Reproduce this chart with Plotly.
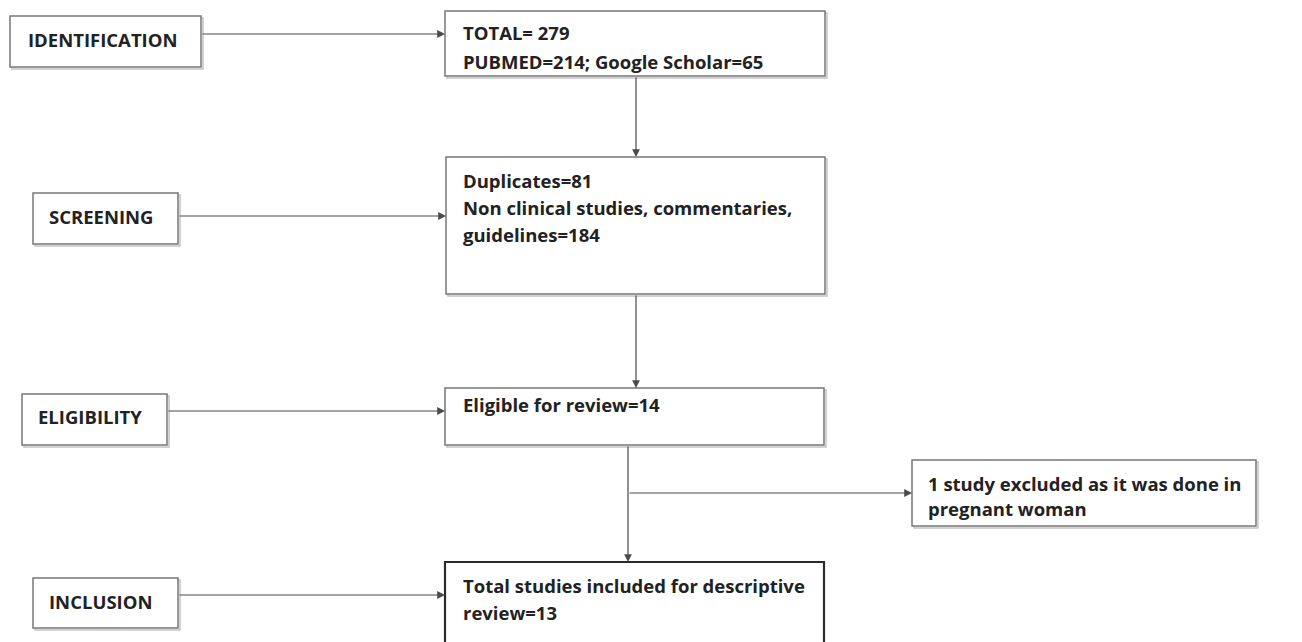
import plotly.graph_objects as go

# ---- content ----
stage_labels = ["IDENTIFICATION", "SCREENING", "ELIGIBILITY", "INCLUSION"]
total_lines = ["TOTAL= 279", "PUBMED=214; Google Scholar=65"]
screening_lines = ["Duplicates=81", "Non clinical studies, commentaries,", "guidelines=184"]
eligible_lines = ["Eligible for review=14"]
included_lines = ["Total studies included for descriptive", "review=13"]
excluded_lines = ["1 study excluded as it was done in", "pregnant woman"]

# ---- geometry (pixels, y downwards) ----
W, H = 1302, 642
stage_boxes = [(10, 16, 201, 67), (33, 193, 178, 244), (22, 394, 167, 445), (33, 578, 178, 628)]
stage_text = [(26, 39), (47, 216), (36, 416), (47, 601)]
stage_arrow_y = [34, 216, 411, 595]

main_boxes = [(445, 11, 825, 76), (446, 157, 825, 294), (445, 388, 824, 445), (445, 562, 824, 660)]
main_text_x = 461
main_text_y = [[32, 61], [180, 207, 234], [404], [585, 612]]
main_lines = [total_lines, screening_lines, eligible_lines, included_lines]

excl_box = (912, 460, 1256, 526)
excl_text = (926, [483, 508])

LINE = "#4a4a4a"
BORDER = "#777777"
SHADOW = "#c4c4c4"
TEXT = "#222222"
FONT = "Open Sans"
FS = 18.5

fig = go.Figure()
shapes = []
annotations = []


def box(x0, y0, x1, y1, color=BORDER, width=1.5, shadow=True):
    if shadow:
        shapes.append(dict(type="rect", x0=x0 + 2, y0=y0 + 2, x1=x1 + 2, y1=y1 + 2,
                           line=dict(color=SHADOW, width=1.5), fillcolor="rgba(0,0,0,0)", layer="below"))
    shapes.append(dict(type="rect", x0=x0, y0=y0, x1=x1, y1=y1,
                       line=dict(color=color, width=width), fillcolor="white"))


def text(x, y, s):
    annotations.append(dict(x=x, y=y, text=s, showarrow=False, xanchor="left", yanchor="middle",
                            font=dict(family=FONT, size=FS, color=TEXT, weight="bold")))


def arrow(x0, y0, x1, y1):
    annotations.append(dict(x=x1, y=y1, ax=x0, ay=y0, xref="x", yref="y", axref="x", ayref="y",
                            text="", showarrow=True, arrowhead=2, arrowsize=1.3, arrowwidth=1.2,
                            arrowcolor=LINE, standoff=0))


# stage boxes + arrows to main boxes
for lbl, b, t, ay, mb in zip(stage_labels, stage_boxes, stage_text, stage_arrow_y, main_boxes):
    box(*b)
    text(t[0], t[1], lbl)
    arrow(b[2], ay, mb[0], ay)

# main boxes
for i, (mb, lines, ys) in enumerate(zip(main_boxes, main_lines, main_text_y)):
    if i == 3:
        box(*mb, color="#2a2a2a", width=2.2, shadow=False)
    else:
        box(*mb)
    for s, y in zip(lines, ys):
        text(main_text_x, y, s)

# vertical connectors
arrow(636, 76, 636, 157)
arrow(636, 294, 636, 388)
arrow(628, 445, 628, 562)

# exclusion branch
box(*excl_box)
for s, y in zip(excluded_lines, excl_text[1]):
    text(excl_text[0], y, s)
arrow(628, 493, 912, 493)

fig.update_layout(
    width=W, height=H, margin=dict(l=0, r=0, t=0, b=0),
    paper_bgcolor="white", plot_bgcolor="white",
    xaxis=dict(range=[0, W], visible=False, fixedrange=True),
    yaxis=dict(range=[H, 0], visible=False, fixedrange=True),
    shapes=shapes, annotations=annotations, showlegend=False,
)
fig.write_html("out.html", config={"displayModeBar": False},
               post_script="document.body.style.margin='0';document.body.style.overflow='hidden';")
